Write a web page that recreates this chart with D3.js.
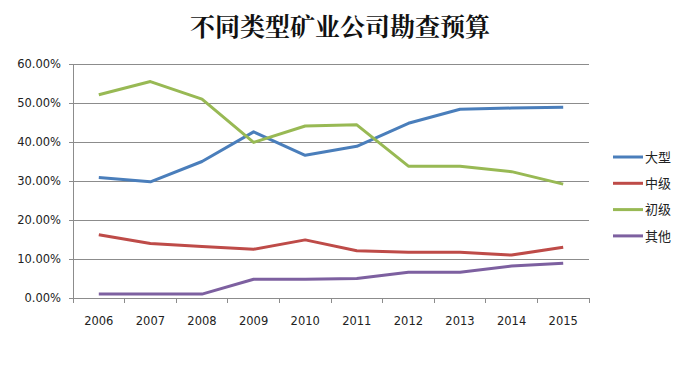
<!DOCTYPE html>
<html><head><meta charset="utf-8">
<script src="https://cdn.jsdelivr.net/npm/d3@7"></script>
<style>body{margin:0;background:#fff}svg{display:block}</style>
</head><body>
<script>
const years = ["2006","2007","2008","2009","2010","2011","2012","2013","2014","2015"];
const seriesNames = ["大型","中级","初级","其他"];
const large  = [30.9,29.8,35.0,42.6,36.6,38.9,44.8,48.4,48.7,48.9];
const medium = [16.2,14.0,13.2,12.5,14.9,12.1,11.7,11.7,11.0,13.0];
const junior = [52.1,55.5,51.0,39.9,44.1,44.4,33.8,33.8,32.4,29.2];
const other  = [1.0,1.0,1.0,4.8,4.8,5.0,6.6,6.6,8.2,8.9];
const yTicks = [0,10,20,30,40,50,60];
const colors = ["#4a7ebb","#be4b48","#98b954","#7d60a0"];
const title = "不同类型矿业公司勘查预算";

const W=679,H=365;
const svg=d3.select("body").append("svg").attr("width",W).attr("height",H);
const x=d3.scaleBand().domain(years).range([73,589]);
const y=d3.scaleLinear().domain([0,60]).range([298,64]);

svg.append("text").attr("x",340).attr("y",36).attr("text-anchor","middle")
 .attr("font-family","'Noto Serif CJK SC','Noto Sans CJK SC',serif").attr("font-weight","bold")
 .attr("font-size",25).attr("fill","#111").text(title);

// gridlines
svg.append("g").selectAll("line").data(yTicks.filter(d=>d>0)).join("line")
 .attr("x1",73).attr("x2",589).attr("y1",d=>y(d)).attr("y2",d=>y(d))
 .attr("stroke","#8c8c8c").attr("stroke-width",1).attr("shape-rendering","crispEdges");

const yAxis=svg.append("g").attr("transform","translate(73,0)")
 .call(d3.axisLeft(y).tickValues(yTicks).tickFormat(d=>d.toFixed(2)+"%").tickSize(4).tickPadding(8));
const xAxis=svg.append("g").attr("transform","translate(0,298)")
 .call(d3.axisBottom(x).tickSize(0).tickPadding(19));
// x tick marks at band boundaries
const bounds=years.map(d=>x(d)).concat([589]);
svg.append("g").selectAll("line").data(bounds).join("line")
 .attr("x1",d=>d).attr("x2",d=>d).attr("y1",298).attr("y2",303)
 .attr("stroke","#8c8c8c").attr("shape-rendering","crispEdges");
[yAxis,xAxis].forEach(g=>{
 g.selectAll("path,line").attr("stroke","#8c8c8c").attr("shape-rendering","crispEdges");
 g.selectAll("text").attr("font-family","'DejaVu Sans',Verdana,sans-serif").attr("font-size",11.5).attr("fill","#222");
});
yAxis.select(".domain").attr("d","M0,64V298");
xAxis.select(".domain").attr("d","M73,0H589");

const data=[large,medium,junior,other];
const line=d3.line().x((d,i)=>x(years[i])+x.bandwidth()/2).y(d=>y(d));
svg.append("g").selectAll("path").data(data).join("path")
 .attr("d",line).attr("fill","none").attr("stroke",(d,i)=>colors[i])
 .attr("stroke-width",3).attr("stroke-linejoin","round");

const leg=svg.append("g").selectAll("g").data(seriesNames).join("g")
 .attr("transform",(d,i)=>`translate(613,${157+i*26.3})`);
leg.append("line").attr("x1",0).attr("x2",30).attr("stroke",(d,i)=>colors[i]).attr("stroke-width",3);
leg.append("text").attr("x",32).attr("dy","0.36em").attr("font-family","'Noto Sans CJK SC',sans-serif")
 .attr("font-size",13).attr("fill","#222").text(d=>d);
</script>
</body></html>
